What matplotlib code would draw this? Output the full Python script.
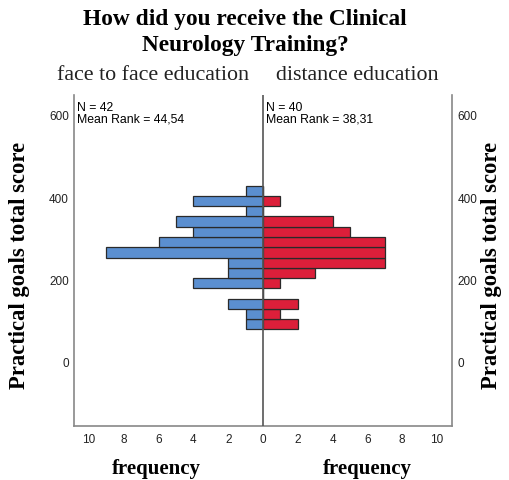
import matplotlib
matplotlib.use("Agg")
import matplotlib.pyplot as plt
import numpy as np

# Data: bin edges (score) and frequencies, bottom to top
bin_edges = [80, 105, 130, 155, 180, 205, 230, 255, 280, 305, 330, 355, 380, 405, 430]
face_counts = [1, 1, 2, 0, 4, 2, 2, 9, 6, 4, 5, 1, 4, 1]
distance_counts = [2, 1, 2, 0, 1, 3, 7, 7, 7, 5, 4, 0, 1, 0]
y_ticks = [0, 200, 400, 600]
x_ticks = [-10, -8, -6, -4, -2, 0, 2, 4, 6, 8, 10]
left_group = "face to face education"
right_group = "distance education"
left_stats = "N = 42\nMean Rank = 44,54"
right_stats = "N = 40\nMean Rank = 38,31"

blue = "#5b8fd0"
red = "#dc1f3a"
edge = "#2a2a2a"

fig = plt.figure(figsize=(5.09, 4.8), dpi=100)
ax = fig.add_axes([0.146, 0.1131, 0.8874 - 0.146, 0.802 - 0.1131])

edges = np.array(bin_edges, dtype=float)
bottoms = edges[:-1]
heights = np.diff(edges)
ax.barh(bottoms, -np.array(face_counts), height=heights, align="edge",
        color=blue, edgecolor=edge, linewidth=0.9)
ax.barh(bottoms, distance_counts, height=heights, align="edge",
        color=red, edgecolor=edge, linewidth=0.9)

ax.axvline(0, color="#555555", linewidth=1.2, zorder=3)
ax.set_xlim(-10.85, 10.85)
ax.set_ylim(-155, 651)

ax.set_yticks(y_ticks)
ax.set_yticklabels([str(v) for v in y_ticks])
ax.set_xticks(x_ticks)
ax.set_xticklabels([str(abs(v)) for v in x_ticks])
ax.tick_params(axis="both", length=0, labelsize=8.5, colors="#222222")
ax.tick_params(axis="y", labelright=True, pad=4)
ax.tick_params(axis="x", pad=6)
for lab in ax.get_xticklabels() + ax.get_yticklabels():
    lab.set_family("Liberation Sans")

for s in ["left", "right", "bottom"]:
    ax.spines[s].set_color("#888888")
    ax.spines[s].set_linewidth(1.2)
ax.spines["top"].set_visible(False)

ax.text(-10.7, 633, left_stats, fontsize=8.8, family="Liberation Sans",
        va="top", ha="left", linespacing=0.9)
ax.text(0.2, 633, right_stats, fontsize=8.8, family="Liberation Sans",
        va="top", ha="left", linespacing=0.9)

serif = "Liberation Serif"
fig.text(245 / 509, 1 - 20 / 480, "How did you receive the Clinical", family=serif,
         fontweight="bold", fontsize=16.8, ha="center", va="center")
fig.text(245 / 509, 1 - 45 / 480, "Neurology Training?", family=serif,
         fontweight="bold", fontsize=16.8, ha="center", va="center")
fig.text(153 / 509, 1 - 76 / 480, left_group, family=serif, fontsize=15.8,
         ha="center", va="center", color="#222222")
fig.text(357 / 509, 1 - 76 / 480, right_group, family=serif, fontsize=15.8,
         ha="center", va="center", color="#222222")
fig.text(156 / 509, 1 - 469 / 480, "frequency", family=serif, fontweight="bold",
         fontsize=15, ha="center", va="center")
fig.text(367 / 509, 1 - 469 / 480, "frequency", family=serif, fontweight="bold",
         fontsize=15, ha="center", va="center")
fig.text(20 / 509, 1 - 265 / 480, "Practical goals total score", family=serif,
         fontweight="bold", fontsize=16.3, ha="center", va="center", rotation=90)
fig.text(492 / 509, 1 - 265 / 480, "Practical goals total score", family=serif,
         fontweight="bold", fontsize=16.3, ha="center", va="center", rotation=90)

fig.savefig("out.png", dpi=100)
